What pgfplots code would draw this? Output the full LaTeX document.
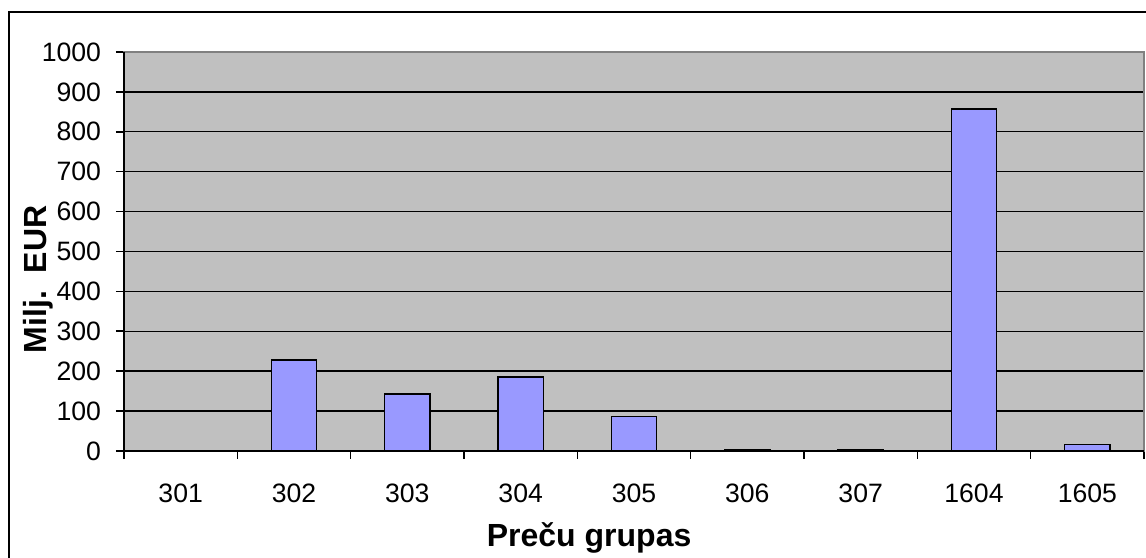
\documentclass[border=0pt]{standalone}
\usepackage{fontspec}
\setmainfont{Liberation Sans}
\usepackage{pgfplots}
\pgfplotsset{compat=1.18}
\definecolor{plotgray}{HTML}{C0C0C0}
\definecolor{bordergray}{HTML}{808080}
\definecolor{barblue}{HTML}{9999FF}
\begin{document}
\begin{tikzpicture}
\useasboundingbox (0,0) rectangle (573pt,278.5pt);
\draw[black, line width=1pt] (4.5pt,-5pt) -- (4.5pt,272.5pt) -- (580pt,272.5pt);
\begin{axis}[
  at={(62pt,53pt)}, anchor=south west,
  width=510pt, height=199.5pt, scale only axis,
  xmin=-0.5, xmax=8.5, ymin=0, ymax=1000,
  ytick={0,100,...,1000},
  xtick={0,...,8},
  xticklabels={301,302,303,304,305,306,307,1604,1605},
  minor xtick={-0.5,0.5,...,8.5},
  major x tick style={draw=none},
  xtick pos=bottom, ytick pos=left,
  tick align=outside,
  major tick length=4pt, minor tick length=4pt,
  tick style={black, line width=0.8pt},
  axis background/.style={fill=plotgray},
  axis line style={draw=bordergray, line width=0.8pt},
  ymajorgrids, grid style={black, line width=0.7pt},
  /pgf/number format/assume math mode=true,
  /pgf/number format/1000 sep={},
  tick label style={font=\fontsize{13.3}{15}\selectfont},
  xticklabel style={yshift=-9pt},
  yticklabel style={xshift=-4pt},
  xlabel={\textbf{Preču grupas}},
  ylabel={\textbf{Milj.\ \ EUR}},
  label style={font=\fontsize{16}{18}\selectfont},
  xlabel style={at={(axis description cs:0.456,0)}, anchor=center, yshift=-43.5pt},
  ylabel style={at={(axis description cs:-0.0843,0.43)}, anchor=center},
  clip=false,
]
\addplot[ybar, bar width=0.4, fill=barblue, draw=black, line width=0.7pt]
  coordinates {(0,0) (1,228) (2,143) (3,185) (4,87) (5,3) (6,3) (7,857) (8,17)};
\draw[black, line width=0.9pt] (rel axis cs:0,1) -- (rel axis cs:0,0) -- (rel axis cs:1,0);
\end{axis}
\end{tikzpicture}
\end{document}
